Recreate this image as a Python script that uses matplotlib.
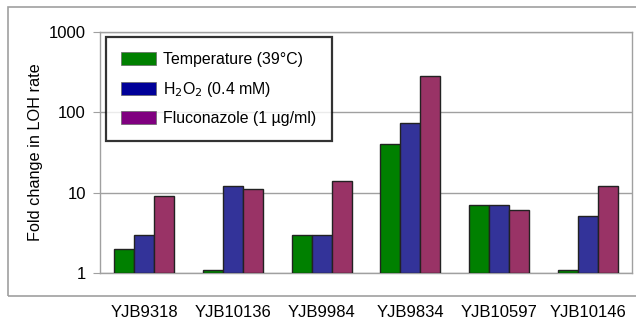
import matplotlib.pyplot as plt
import numpy as np
from matplotlib.patches import Rectangle, Patch

plt.rcParams["font.family"] = ["Liberation Sans", "DejaVu Sans"]

strains = ["YJB9318", "YJB10136", "YJB9984", "YJB9834", "YJB10597", "YJB10146"]
temperature = [2.0, 1.1, 3.0, 40, 7.0, 1.1]
h2o2 = [3.0, 12, 3.0, 73, 7.0, 5.1]
fluconazole = [9.0, 11, 14, 285, 6.1, 12]

series_labels = ["Temperature (39°C)", "H$_2$O$_2$ (0.4 mM)", "Fluconazole (1 µg/ml)"]
bar_colors = ["#008000", "#333399", "#993366"]
legend_colors = ["#008000", "#000099", "#800080"]

fig = plt.figure(figsize=(6.36, 3.23), dpi=100)
ax = fig.add_axes([0.157, 0.155, 0.837, 0.746])

# outer chart frame
fig.patches.append(Rectangle((0.0126, 0.0836), 1.0, 0.895, transform=fig.transFigure,
                             fill=False, edgecolor="#a0a0a0", linewidth=1.2))

x = np.arange(len(strains))
width = 0.225
for i, vals in enumerate([temperature, h2o2, fluconazole]):
    ax.bar(x + (i - 1) * width, np.array(vals) - 1, width, bottom=1, color=bar_colors[i],
           edgecolor="#222222", linewidth=1.0, zorder=3)

ax.set_yscale("log")
ax.set_ylim(1, 1000)
ax.set_xlim(-0.5, len(strains) - 0.5)
ax.set_yticks([1, 10, 100, 1000])
ax.set_yticklabels(["1", "10", "100", "1000"])
ax.minorticks_off()
ax.yaxis.grid(True, color="#a0a0a0", linewidth=1.0, zorder=0)
ax.set_xticks(x)
ax.set_xticklabels(strains, fontsize=12)
ax.tick_params(axis="x", length=0, pad=23)
ax.tick_params(axis="y", length=5, color="#a0a0a0", labelsize=12, pad=5)
for s in ax.spines.values():
    s.set_color("#a0a0a0")
    s.set_linewidth(1.0)
ax.set_ylabel("Fold change in LOH rate", fontsize=11.7, labelpad=4)

handles = [Patch(facecolor=c, edgecolor="#666666", linewidth=0.5) for c in legend_colors]
leg = ax.legend(handles, series_labels, loc="upper left", bbox_to_anchor=(0.011, 0.98),
                fontsize=11.4, frameon=True, fancybox=False, handlelength=2.2,
                handleheight=0.9, labelspacing=0.8, borderpad=0.95, handletextpad=0.5,
                borderaxespad=0)
leg.get_frame().set_edgecolor("black")
leg.get_frame().set_linewidth(1.6)
leg.set_zorder(5)

fig.savefig("out.png", dpi=100)
